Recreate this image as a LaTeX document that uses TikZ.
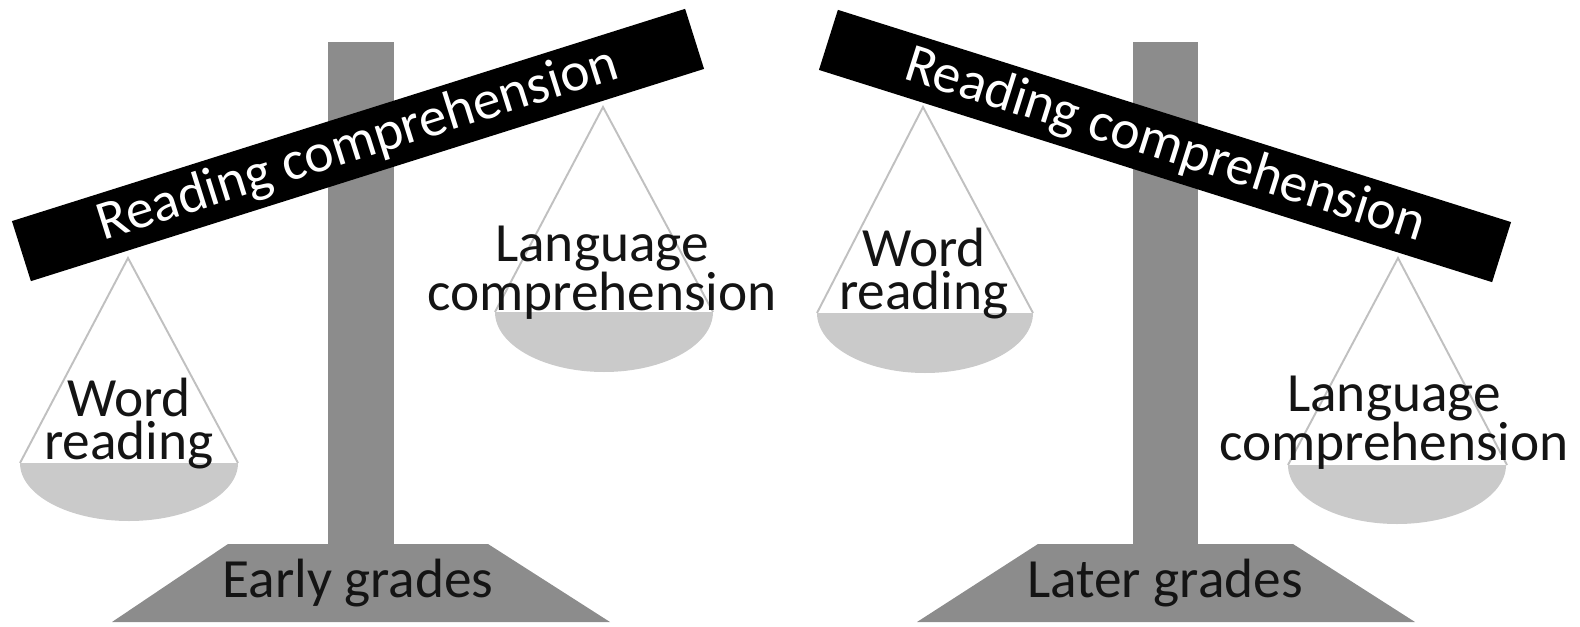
\documentclass[tikz,border=0pt]{standalone}
\usepackage{fontspec}
\setmainfont{Carlito}
\definecolor{standgray}{RGB}{140,140,140}
\definecolor{pangray}{RGB}{202,202,202}
\definecolor{stringgray}{RGB}{192,192,192}
\definecolor{inkblack}{RGB}{20,20,20}
\tikzset{
  bigfont/.style={font=\fontsize{31.5}{24}\selectfont},
  beam/.style={fill=black, text=white, bigfont, inner sep=0pt,
    minimum width=14.12cm, minimum height=1.26cm},
  stand/.style={fill=standgray},
  pan/.style={fill=pangray},
  panstring/.style={draw=stringgray, line width=1.1pt},
  pantext/.style={bigfont, text=inkblack, align=center, inner sep=0pt, anchor=south},
  gradetext/.style={bigfont, text=inkblack, anchor=base}
}
\begin{document}
\begin{tikzpicture}[x=0.02cm,y=-0.02cm]
   \useasboundingbox (0,0) rectangle (1580,626);

   % early grades scale
   \fill[stand] (328,42) rectangle (394,546);
   \fill[stand] (228,544) -- (488,544) -- (610,622) -- (112,622) -- cycle;
   \node[gradetext] (early) at (358,597) {Early grades};

   \coordinate (lwApex) at (128,258);
   \coordinate (lwL) at (20,463);
   \coordinate (lwR) at (238,463);
   \draw[panstring] (lwL) -- (lwApex) -- (lwR);
   \fill[pan] (lwL) arc[start angle=180, end angle=0, x radius=109, y radius=58] -- cycle;
   \node[pantext] (lword) at (129,469) {Word\\reading};

   \coordinate (llApex) at (603,107);
   \coordinate (llL) at (495,312);
   \coordinate (llR) at (713,312);
   \draw[panstring] (llL) -- (llApex) -- (llR);
   \fill[pan] (llL) arc[start angle=180, end angle=0, x radius=109, y radius=60] -- cycle;
   \node[pantext] (llang) at (602,320) {Language\\comprehension};

   \node[beam, rotate=17.5] (lbeam) at (358,145) {Reading comprehension};

   % later grades scale
   \fill[stand] (1133,42) rectangle (1198,546);
   \fill[stand] (1038,544) -- (1293,544) -- (1415,622) -- (917,622) -- cycle;
   \node[gradetext] (later) at (1165,597) {Later grades};

   \coordinate (rwApex) at (923,107);
   \coordinate (rwL) at (817,313);
   \coordinate (rwR) at (1033,313);
   \draw[panstring] (rwL) -- (rwApex) -- (rwR);
   \fill[pan] (rwL) arc[start angle=180, end angle=0, x radius=108, y radius=60] -- cycle;
   \node[pantext] (rword) at (924,319) {Word\\reading};

   \coordinate (rlApex) at (1398,258);
   \coordinate (rlL) at (1288,465);
   \coordinate (rlR) at (1507,465);
   \draw[panstring] (rlL) -- (rlApex) -- (rlR);
   \fill[pan] (rlL) arc[start angle=180, end angle=0, x radius=109, y radius=59] -- cycle;
   \node[pantext] (rlang) at (1394,470) {Language\\comprehension};

   \node[beam, rotate=-17.5] (rbeam) at (1165,146) {Reading comprehension};
\end{tikzpicture}
\end{document}
